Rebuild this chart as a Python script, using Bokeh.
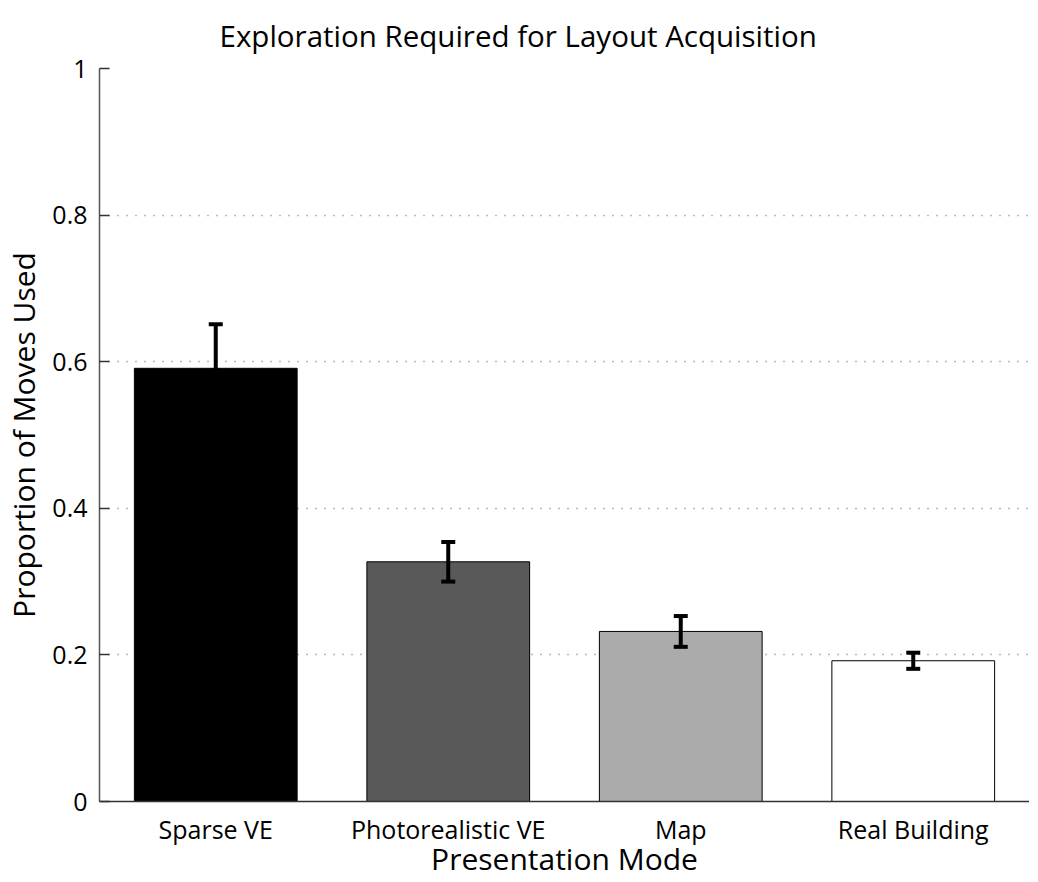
from bokeh.plotting import figure
from bokeh.models import ColumnDataSource, FactorRange, Range1d, Whisker, TeeHead, FixedTicker
from bokeh.embed import file_html
from bokeh.resources import INLINE

categories = ["Sparse VE", "Photorealistic VE", "Map", "Real Building"]
values = [0.591, 0.327, 0.232, 0.192]
errors = [0.060, 0.027, 0.021, 0.011]
colors = ["#000000", "#595959", "#ababab", "#ffffff"]
y_ticks = [0, 0.2, 0.4, 0.6, 0.8, 1.0]
y_tick_labels = {0: "0", 0.2: "0.2", 0.4: "0.4", 0.6: "0.6", 0.8: "0.8", 1.0: "1"}

FONT = "Open Sans"

src = ColumnDataSource(dict(
    cat=categories, val=values, color=colors,
    upper=[v + e for v, e in zip(values, errors)],
    lower=[v - e for v, e in zip(values, errors)],
))

p = figure(x_range=FactorRange(factors=categories, range_padding=0),
           y_range=Range1d(0, 1),
           frame_width=930, frame_height=733,
           min_border_left=90, min_border_right=0, min_border_top=66, min_border_bottom=70,
           output_backend="svg", toolbar_location=None,
           title="Exploration Required for Layout Acquisition")

p.vbar(x="cat", top="val", width=0.7, source=src, fill_color="color",
       line_color="#000000", line_width=1)

w = Whisker(base="cat", upper="upper", lower="lower", source=src,
            line_color="#000000", line_width=4, level="overlay",
            upper_head=TeeHead(size=14, line_width=4, line_color="#000000"),
            lower_head=TeeHead(size=14, line_width=4, line_color="#000000"))
p.add_layout(w)

p.outline_line_color = None
p.xgrid.grid_line_color = None
p.ygrid.grid_line_color = "#777777"
p.ygrid.grid_line_dash = "1 8"
p.ygrid.grid_line_width = 1.5

p.title.align = "left"
p.title.offset = 120
p.title.standoff = 25
p.title.text_font = FONT
p.title.text_font_size = "29.5px"
p.title.text_font_style = "normal"
p.title.text_color = "#000000"

p.yaxis.ticker = FixedTicker(ticks=y_ticks)
p.yaxis.major_label_overrides = y_tick_labels
p.yaxis.major_tick_in = 10
p.yaxis.major_tick_out = 0
p.yaxis.minor_tick_line_color = None
p.yaxis.axis_line_color = "#555555"
p.yaxis.axis_line_width = 1.5
p.yaxis.major_tick_line_color = "#333333"
p.yaxis.major_tick_line_width = 1.5
p.yaxis.major_label_standoff = 12
p.yaxis.axis_label = "Proportion of Moves Used"

p.xaxis.major_tick_line_color = None
p.xaxis.minor_tick_line_color = None
p.xaxis.axis_line_color = "#333333"
p.xaxis.axis_line_width = 1.5
p.xaxis.major_label_standoff = 4
p.xaxis.axis_label = "Presentation Mode"

for ax in (p.xaxis, p.yaxis):
    ax.major_label_text_font = FONT
    ax.major_label_text_font_size = "25px"
    ax.major_label_text_color = "#000000"
    ax.axis_label_text_font = FONT
    ax.axis_label_text_font_size = "30px"
    ax.axis_label_text_font_style = "normal"
    ax.axis_label_text_color = "#000000"
p.xaxis.axis_label_standoff = -11
p.yaxis.axis_label_standoff = 5

open("out.html", "w").write(file_html(p, INLINE))
